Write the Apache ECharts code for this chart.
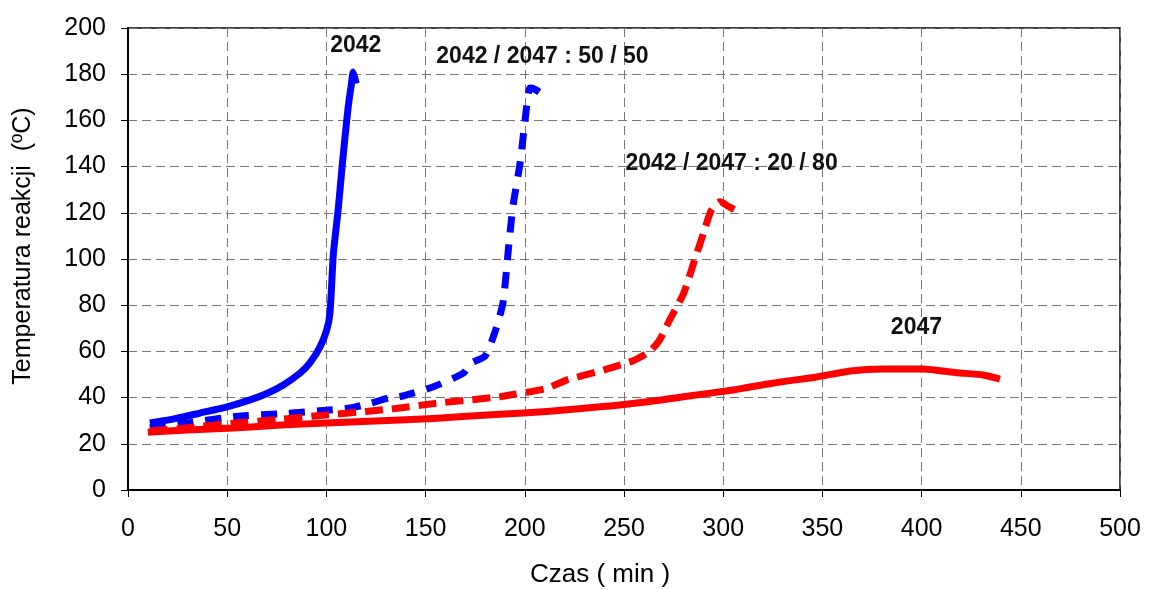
<!DOCTYPE html>
<html>
<head>
<meta charset="utf-8">
<script src="https://cdn.jsdelivr.net/npm/echarts@6/dist/echarts.min.js"></script>
<style>
html,body{margin:0;padding:0;background:#fff;}
#chart{width:1150px;height:590px;}
</style>
</head>
<body>
<div id="chart"></div>
<script>
// Data: [time (min), temperature (°C)]
const s2042 = [[11,29],[24.5,31],[36.3,33.3],[50,36],[61.5,39],[70,41.8],[78.3,45.5],[86.7,50.6],[91.7,55],[96.8,62],[100.1,69],[101.8,76.5],[103.5,102],[106,122],[107.7,138],[109.4,153],[111,166],[112.5,175],[113.5,181],[115,176]];
const s5050 = [[11,27],[30,29],[53,31.7],[80,33.2],[100,34.5],[112,35.5],[122,37.5],[132,40],[137,40.4],[154,44.7],[169,50.6],[173,55],[180,58],[185,68.5],[189,81],[191.7,104],[194,122.6],[197.6,141.4],[200,159],[202.6,174],[205,173.5],[207.7,172]];
const s2080 = [[11,25.5],[30,27],[53,28.9],[75,30.5],[100,32.5],[120,34],[137,35.5],[155,37.5],[187.5,40.4],[211,44],[221,47.6],[240,52],[254.6,56],[263,60],[268,65],[273,73.6],[280,85],[285,98],[290,111],[294,121],[298.4,124.8],[303,122.6],[307.5,120.5]];
const s2047 = [[10,25],[30,26],[53,26.8],[75,28],[100,29],[137,30.3],[154,31],[187.5,32.8],[211,34],[238,36],[260,38],[280,40.4],[305,43.3],[313.5,44.6],[330,46.9],[347,48.9],[364,51.5],[380.6,52.4],[400.7,52.4],[417.7,50.8],[431,49.8],[439.5,48]];

const seriesNames = ['2042', '2042 / 2047 : 50 / 50', '2042 / 2047 : 20 / 80', '2047'];
// annotation anchor points in data units [time, temperature]
const labelAnchors = [[114.8,192.2],[208.9,187.6],[304.2,141.1],[397.4,70.3]];

const xTicks = {min: 0, max: 500, interval: 50};
const yTicks = {min: 0, max: 200, interval: 20};

const FONT = '"Liberation Sans", Arial, sans-serif';

function makeSeries(name, data, color, dash, anchor) {
  return {
    name: name,
    type: 'line',
    data: data,
    showSymbol: false,
    symbol: 'none',
    smooth: 0.2,
    lineStyle: {color: color, width: 7, type: dash, cap: 'butt', join: 'round'},
    markPoint: {
      symbol: 'circle',
      symbolSize: 0,
      silent: true,
      label: {
        show: true,
        position: 'inside',
        formatter: name,
        color: '#111',
        fontFamily: FONT,
        fontWeight: 'bold',
        fontSize: 23
      },
      data: [{coord: anchor, value: 0}]
    },
    z: 3
  };
}

const chart = echarts.init(document.getElementById('chart'), null, {renderer: 'canvas'});
chart.setOption({
  backgroundColor: '#fff',
  animation: false,
  grid: {left: 128, right: 30, top: 28, bottom: 100, containLabel: false, outerBoundsMode: 'none', show: true, borderColor: '#000', borderWidth: 1.5, backgroundColor: 'transparent'},
  xAxis: {
    type: 'value',
    min: xTicks.min, max: xTicks.max, interval: xTicks.interval,
    name: 'Czas ( min )',
    nameLocation: 'middle',
    nameGap: 72,
    nameTextStyle: {fontFamily: FONT, fontSize: 26, color: '#000', padding: [0, 48, 0, 0]},
    axisLine: {show: true, onZero: false, lineStyle: {color: '#000', width: 2}},
    axisTick: {show: true, inside: false, length: 7, lineStyle: {color: '#000', width: 1}},
    axisLabel: {fontFamily: FONT, fontSize: 25, color: '#000', margin: 27},
    splitLine: {show: true, lineStyle: {color: '#777', width: 1, type: [9, 5]}}
  },
  yAxis: {
    type: 'value',
    min: yTicks.min, max: yTicks.max, interval: yTicks.interval,
    name: 'Temperatura reakcji  (\u00baC)',
    nameLocation: 'middle',
    nameGap: 92,
    nameRotate: 90,
    nameTextStyle: {fontFamily: FONT, fontSize: 25, color: '#000', padding: [0, 0, 0, 26]},
    axisLine: {show: true, onZero: false, lineStyle: {color: '#000', width: 2}},
    axisTick: {show: true, inside: false, length: 7, lineStyle: {color: '#000', width: 1}},
    axisLabel: {fontFamily: FONT, fontSize: 25, color: '#000', margin: 22},
    splitLine: {show: true, lineStyle: {color: '#777', width: 1, type: [9, 5]}}
  },
  series: [
    makeSeries(seriesNames[0], s2042, '#0000ff', 'solid', labelAnchors[0]),
    makeSeries(seriesNames[1], s5050, '#0000ff', [16, 12], labelAnchors[1]),
    makeSeries(seriesNames[2], s2080, '#ff0000', [18, 9], labelAnchors[2]),
    makeSeries(seriesNames[3], s2047, '#ff0000', 'solid', labelAnchors[3])
  ]
});
</script>
</body>
</html>
